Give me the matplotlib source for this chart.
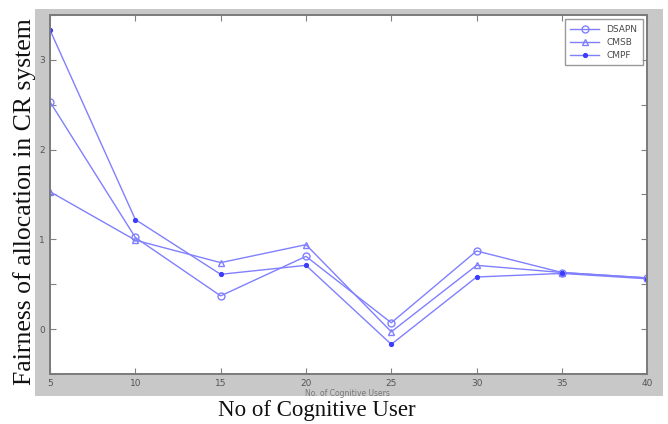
import numpy as np
import matplotlib.pyplot as plt

users = [5, 10, 15, 20, 25, 30, 35, 40]

dsapn = [2.53, 1.02, 0.37, 0.81, 0.07, 0.87, 0.63, 0.57]
cmsb = [1.53, 0.99, 0.74, 0.94, -0.03, 0.71, 0.63, 0.57]
cmpf = [3.33, 1.22, 0.61, 0.71, -0.17, 0.58, 0.62, 0.56]

fig = plt.figure(figsize=(6.68, 4.24), dpi=100)
fig.patch.set_facecolor("white")

# grey matlab-style figure panel
bg = fig.add_axes([0.052, 0.066, 0.940, 0.913], zorder=-1)
bg.set_facecolor("#c8c8c8")
bg.set_xticks([])
bg.set_yticks([])
for s in bg.spines.values():
    s.set_visible(False)

ax = fig.add_axes([0.0749, 0.118, 0.894, 0.847])
ax.set_facecolor("white")

line_c = "#8080ff"
mark_c = "#3c3cff"

ax.plot(users, dsapn, linestyle="-", marker="o", color=line_c, lw=1.0, ms=5,
        mfc="none", mec=line_c, mew=1.0, label="DSAPN")
ax.plot(users, cmsb, linestyle="-", marker="^", color=line_c, lw=1.0, ms=5,
        mfc="none", mec=line_c, mew=1.0, label="CMSB")
ax.plot(users, cmpf, linestyle="-", marker=".", color=line_c, lw=1.0, ms=5.5,
        mfc=mark_c, mec=mark_c, label="CMPF")

ax.set_xlim(5, 40)
ax.set_ylim(-0.5, 3.5)
ax.set_xticks(users)
yt = np.arange(-0.5, 3.51, 0.5)
ax.set_yticks(yt)
ax.set_yticklabels([str(int(v)) if v == int(v) and v >= 0 else "" for v in yt])

ax.tick_params(direction="in", length=4.5, width=0.8, colors="#808080",
               labelcolor="#555555", labelsize=6.5, top=True, right=True)
for s in ax.spines.values():
    s.set_color("#7a7a7a")
    s.set_linewidth(1.4)

leg = ax.legend(loc="upper right", fontsize=6.5, frameon=True, fancybox=False,
                handlelength=3.2, borderpad=0.6, labelspacing=0.45)
leg.get_frame().set_edgecolor("#808080")
leg.get_frame().set_linewidth(1.0)
for t in leg.get_texts():
    t.set_color("#4a4a4a")

# small original axis label, mostly hidden
fig.text(0.52, 0.072, "No. of Cognitive Users", fontsize=5.5, color="#777777",
         ha="center", va="center")

fig.text(0.475, 0.033, "No of Cognitive User", fontsize=16.5,
         family="Liberation Serif", ha="center", va="center", color="#111111")
fig.text(0.037, 0.524, "Fairness of allocation in CR system", fontsize=18.5,
         family="Liberation Serif", rotation=90, ha="center", va="center",
         color="#111111")

fig.savefig("out.png", dpi=100)
